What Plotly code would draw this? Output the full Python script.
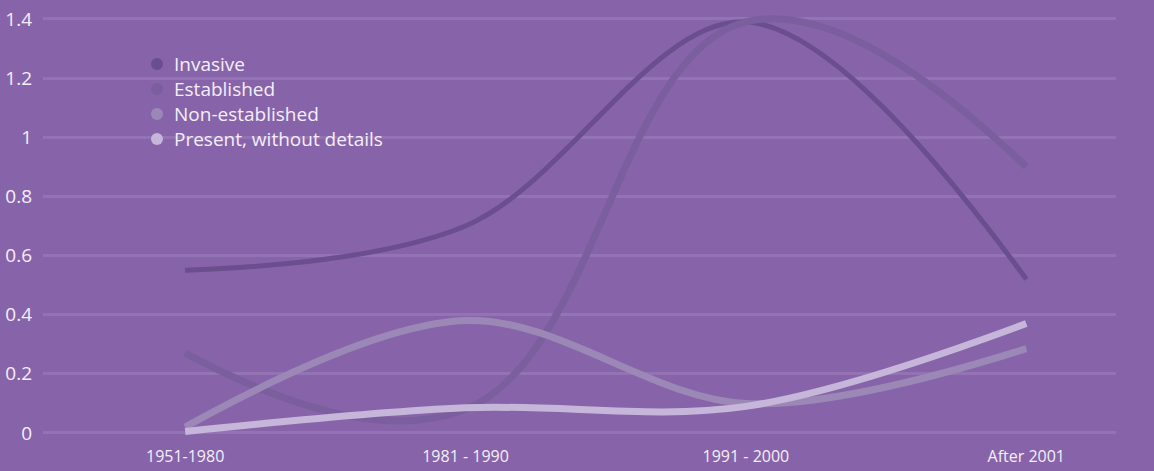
import plotly.graph_objects as go

categories = ["1951-1980", "1981 - 1990", "1991 - 2000", "After 2001"]
invasive = [0.55, 0.70, 1.39, 0.52]
established = [0.27, 0.08, 1.39, 0.90]
non_established = [0.02, 0.38, 0.10, 0.285]
present = [0.005, 0.085, 0.09, 0.37]

series = [
    ("Invasive", invasive, "#6a4e8e", 5, 1.0),
    ("Established", established, "#7a5e9e", 7, 1.2),
    ("Non-established", non_established, "#9c88b6", 7, 1.0),
    ("Present, without details", present, "#c5b6da", 7, 1.0),
]

BG = "#8764a9"
L, R, T, B = 43, 38, 5, 26
W, H = 1154, 471
PW, PH = W - L - R, H - T - B

fig = go.Figure()
for name, vals, color, w, sm in series:
    fig.add_trace(go.Scatter(
        x=categories, y=vals, mode="lines", name=name, showlegend=False,
        line=dict(color=color, width=w, shape="spline", smoothing=sm),
        hoverinfo="skip",
    ))

# custom legend (circle swatches + text)
shapes, annots = [], []
for i, (name, vals, color, w, sm) in enumerate(series):
    cy = 64 + 25 * i
    cx = 157
    r = 6
    shapes.append(dict(type="circle", xref="paper", yref="paper",
                       x0=(cx - r - L) / PW, x1=(cx + r - L) / PW,
                       y0=(H - B - (cy + r)) / PH, y1=(H - B - (cy - r)) / PH,
                       fillcolor=color, line=dict(width=0)))
    annots.append(dict(xref="paper", yref="paper", x=(173 - L) / PW,
                       y=(H - B - cy) / PH, xanchor="left", yanchor="middle",
                       text=name, showarrow=False, borderpad=0,
                       font=dict(size=19, color="#f4eef8")))

fig.update_layout(
    width=W, height=H,
    paper_bgcolor=BG, plot_bgcolor=BG,
    margin=dict(l=L, r=R, t=T, b=B, autoexpand=False),
    font=dict(family="'Open Sans', sans-serif", color="#f4eef8", size=16),
    showlegend=False,
    shapes=shapes, annotations=annots,
    xaxis=dict(type="category", range=[-0.507, 3.32], showgrid=False,
               zeroline=False, showline=False, ticks="", automargin=False,
               tickfont=dict(size=16)),
    yaxis=dict(range=[-0.0406, 1.447], tickvals=[0, 0.2, 0.4, 0.6, 0.8, 1, 1.2, 1.4],
               ticktext=["0", "0.2", "0.4", "0.6", "0.8", "1", "1.2", "1.4"],
               showgrid=True, gridcolor="#9373b4", gridwidth=3, automargin=False,
               zeroline=False, showline=False, ticks="", ticklabelstandoff=10,
               tickfont=dict(size=19)),
)
fig.write_html("out.html", config={"displayModeBar": False},
               post_script="document.body.style.margin='0';document.body.style.background='#8764a9';")
